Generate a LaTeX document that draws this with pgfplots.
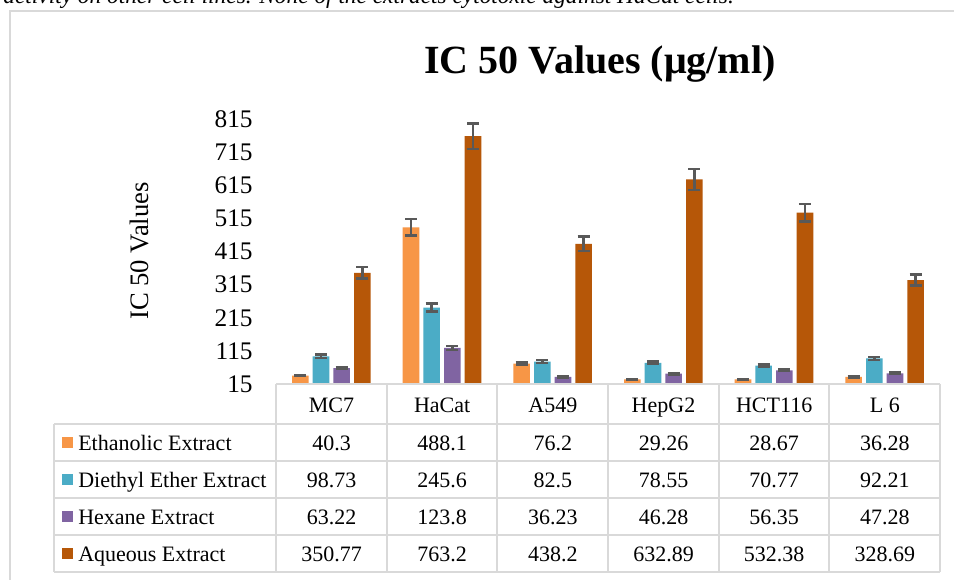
\documentclass[border=0pt]{standalone}
\usepackage{pgfplots}
\pgfplotsset{compat=1.18}
\usepackage{pgfplotstable}
\usepackage{fontspec}
\setmainfont{Liberation Serif}
\definecolor{cEth}{HTML}{F79646}
\definecolor{cDie}{HTML}{4BACC6}
\definecolor{cHex}{HTML}{8064A2}
\definecolor{cAq}{HTML}{B65708}
\definecolor{grid}{HTML}{D9D9D9}
\definecolor{errc}{HTML}{595959}
\pgfplotstableread{
x y e
0 40.3 2.015
1 488.1 24.405
2 76.2 3.81
3 29.26 1.463
4 28.67 1.4335
5 36.28 1.814
}\eth
\pgfplotstableread{
x y e
0 98.73 4.94
1 245.6 12.28
2 82.5 4.125
3 78.55 3.93
4 70.77 3.54
5 92.21 4.61
}\die
\pgfplotstableread{
x y e
0 63.22 3.16
1 123.8 6.19
2 36.23 1.81
3 46.28 2.31
4 56.35 2.82
5 47.28 2.36
}\hex
\pgfplotstableread{
x y e
0 350.77 17.54
1 763.2 38.16
2 438.2 21.91
3 632.89 31.64
4 532.38 26.62
5 328.69 16.43
}\aq
\newcommand{\tf}{\fontsize{16.5}{19}\selectfont}
\begin{document}
\begin{tikzpicture}[x=0.75pt,y=-0.75pt]
\path[use as bounding box] (0,0) rectangle (954,580);
\clip (0,0) rectangle (954,580);
\fill[white] (0,0) rectangle (954,580);
% cropped caption text at the top
\node[anchor=base east,inner sep=0,font=\fontsize{17.5}{20}\selectfont\itshape] at (734,4) {sed activity on other cell lines. None of the extracts cytotoxic against HaCat cells.};
% chart frame
\draw[grid,line width=1.5pt] (10,600) -- (10,11) -- (970,11);
% title
\node[anchor=base,inner sep=0,font=\fontsize{30}{34}\selectfont\bfseries] at (600,74) {IC 50 Values (μg/ml)};
% y label
\node[rotate=90,inner sep=0,font=\fontsize{20}{24}\selectfont] at (139,251) {IC 50 Values};
\begin{axis}[
  at={(207pt,-288pt)}, anchor=south west,
  scale only axis, width=498pt, height=198.75pt,
  xmin=-0.5, xmax=5.5, ymin=15, ymax=815,
  ytick={15,115,...,815},
  xtick=\empty,
  axis line style={draw=none},
  major tick length=0pt,
  /pgf/number format/assume math mode=true,
  yticklabel style={font=\fontsize{19}{22}\selectfont, xshift=-14pt},
  ybar=3.1pt, bar width=12.4pt,
  every axis plot/.append style={draw=none},
  error bars/y dir=both, error bars/y explicit,
  error bars/error bar style={errc, line width=1.8pt},
  error bars/error mark options={rotate=90, mark size=4.5pt, line width=1.8pt, errc},
  clip=false,
]
\addplot[fill=cEth] table[x=x,y=y,y error=e]{\eth};
\addplot[fill=cDie] table[x=x,y=y,y error=e]{\die};
\addplot[fill=cHex] table[x=x,y=y,y error=e]{\hex};
\addplot[fill=cAq] table[x=x,y=y,y error=e]{\aq};
\end{axis}
% data table
\begin{scope}[grid, line width=1.5pt]
\draw (276,384) -- (940,384);
\draw (54,424) -- (940,424);
\foreach \yy in {461,498,535,572} \draw (54,\yy) -- (940,\yy);
\draw (54,424) -- (54,572);
\foreach \xx in {276,387,497,608,719,829,940} \draw (\xx,384) -- (\xx,572);
\end{scope}
\begin{scope}[every node/.style={font=\tf, inner sep=0, anchor=base}]
\foreach \n [count=\i from 0] in {MC7,HaCat,A549,HepG2,HCT116,L 6}
  \node at (331.5+110.67*\i,413) {\n};
\foreach \n [count=\i from 0] in {40.3,488.1,76.2,29.26,28.67,36.28}
  \node at (331.5+110.67*\i,451) {\n};
\foreach \n [count=\i from 0] in {98.73,245.6,82.5,78.55,70.77,92.21}
  \node at (331.5+110.67*\i,488) {\n};
\foreach \n [count=\i from 0] in {63.22,123.8,36.23,46.28,56.35,47.28}
  \node at (331.5+110.67*\i,525) {\n};
\foreach \n [count=\i from 0] in {350.77,763.2,438.2,632.89,532.38,328.69}
  \node at (331.5+110.67*\i,562) {\n};
\node[anchor=base west] at (78,451) {Ethanolic Extract};
\node[anchor=base west] at (78,488) {Diethyl Ether Extract};
\node[anchor=base west] at (78,525) {Hexane Extract};
\node[anchor=base west] at (78,562) {Aqueous Extract};
\end{scope}
\fill[cEth] (62,437) rectangle (73,448);
\fill[cDie] (62,474) rectangle (73,485);
\fill[cHex] (62,511) rectangle (73,522);
\fill[cAq] (62,548) rectangle (73,559);
\end{tikzpicture}
\end{document}
